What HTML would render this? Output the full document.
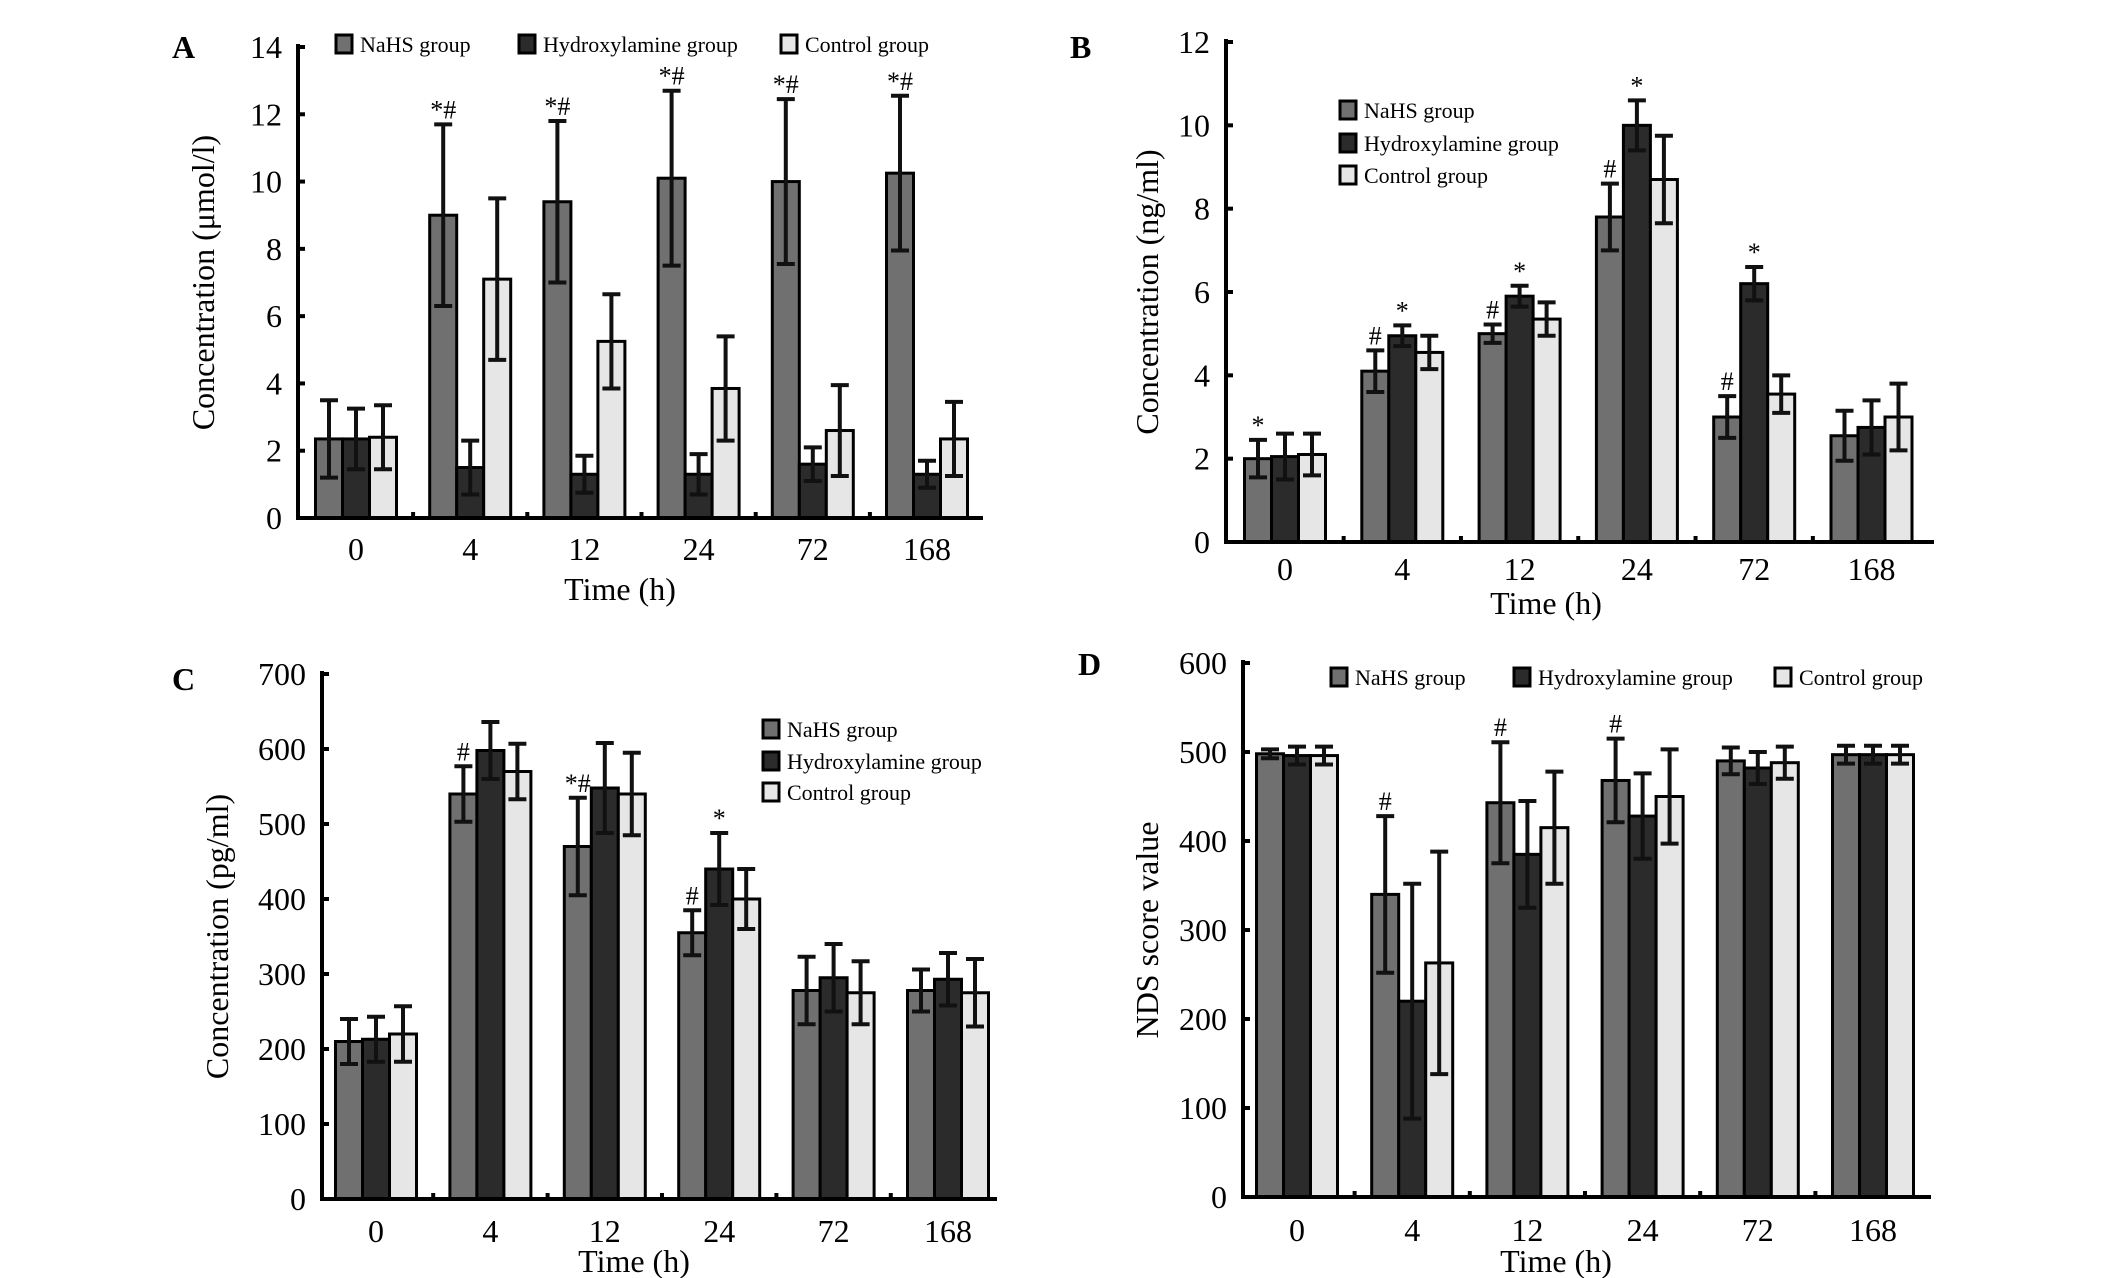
<!DOCTYPE html>
<html><head><meta charset="utf-8"><style>
html,body{margin:0;padding:0;background:#fff;}
svg{display:block;}
text{font-family:"Liberation Serif",serif;fill:#000;}
</style></head><body>
<svg id="fig" width="2126" height="1278" viewBox="0 0 2126 1278" xmlns="http://www.w3.org/2000/svg"></svg>
<script>
const categories = ["0","4","12","24","72","168"];
const seriesNames = ["NaHS group","Hydroxylamine group","Control group"];
// Panel A
const aNaHS = [2.35,9.0,9.4,10.1,10.0,10.25];
const aNaHSErr = [1.15,2.7,2.4,2.6,2.45,2.3];
const aHyd = [2.35,1.5,1.3,1.3,1.6,1.3];
const aHydErr = [0.9,0.8,0.55,0.6,0.5,0.4];
const aCtrl = [2.4,7.1,5.25,3.85,2.6,2.35];
const aCtrlErr = [0.95,2.4,1.4,1.55,1.35,1.1];
const aTicks = [0,2,4,6,8,10,12,14];
// Panel B
const bNaHS = [2.0,4.1,5.0,7.8,3.0,2.55];
const bNaHSErr = [0.45,0.5,0.22,0.8,0.5,0.6];
const bHyd = [2.05,4.95,5.9,10.0,6.2,2.75];
const bHydErr = [0.55,0.25,0.25,0.6,0.4,0.65];
const bCtrl = [2.1,4.55,5.35,8.7,3.55,3.0];
const bCtrlErr = [0.5,0.4,0.4,1.05,0.45,0.8];
const bTicks = [0,2,4,6,8,10,12];
// Panel C
const cNaHS = [210,540,470,355,278,278];
const cNaHSErr = [30,37,65,30,45,28];
const cHyd = [213,598,548,440,295,293];
const cHydErr = [30,38,60,48,45,35];
const cCtrl = [220,570,540,400,275,275];
const cCtrlErr = [37,37,55,40,42,45];
const cTicks = [0,100,200,300,400,500,600,700];
// Panel D
const dNaHS = [498,340,443,468,490,497];
const dNaHSErr = [5,88,68,47,15,10];
const dHyd = [496,220,385,428,482,497];
const dHydErr = [10,132,60,48,18,10];
const dCtrl = [496,263,415,450,488,497];
const dCtrlErr = [10,125,63,53,18,10];
const dTicks = [0,100,200,300,400,500,600];

const svg = document.getElementById('fig');
const NS = 'http://www.w3.org/2000/svg';
const fills = ['#707070','#2b2b2b','#e6e6e6'];
function mk(tag, attrs, parent){ const e=document.createElementNS(NS,tag); for(const k in attrs) e.setAttribute(k,attrs[k]); (parent||svg).appendChild(e); return e; }
function txt(s, attrs, parent){ const e=mk('text',attrs,parent); e.textContent=s; return e; }

function panel(cfg){
  const g = mk('g',{});
  
  
  const y = v => cfg.y0 - v / cfg.max * (cfg.y0 - cfg.yTop);
  const groups = categories.map((c,i)=>cfg.x0c + i*cfg.step);
  const bw = 27;
  const series = [[cfg.s[0],cfg.e[0]],[cfg.s[1],cfg.e[1]],[cfg.s[2],cfg.e[2]]];
  categories.forEach((c,i)=>{
    series.forEach((s,k)=>{
      const bx = groups[i] + (k-1.5)*bw;
      const top = y(s[0][i]);
      const r = mk('rect',{x:bx,y:top,width:bw,height:cfg.y0-top,fill:fills[k],stroke:'#000','stroke-width':3},g);
      
      
      const cx = bx + bw/2, hi = y(s[0][i]+s[1][i]), lo = y(Math.max(0,s[0][i]-s[1][i]));
      const eb = mk('path',{d:`M${cx} ${hi}V${lo}M${cx-9} ${hi}H${cx+9}M${cx-9} ${lo}H${cx+9}`,stroke:'#111','stroke-width':4,fill:'none'},g);
      
      
      const ann = (cfg.ann[i]||[])[k];
      if(ann){ const t=txt(ann,{x:cx,y:hi-6,'text-anchor':'middle','font-size':26},g);
        
         }
    });
    const xl = txt(c,{x:groups[i],y:cfg.xly,'text-anchor':'middle','font-size':32},g);
    
    
    if(i>0){ mk('line',{x1:(groups[i]+groups[i-1])/2,x2:(groups[i]+groups[i-1])/2,y1:cfg.y0,y2:cfg.y0-6,stroke:'#000','stroke-width':4},g); }
  });
  const ax = mk('path',{d:`M${cfg.xAxis} ${cfg.yTop-3}V${cfg.y0}H${cfg.xEnd}`,stroke:'#000','stroke-width':4,fill:'none'},g);
  
  
  cfg.ticks.forEach(v=>{
    mk('line',{x1:cfg.xAxis,x2:cfg.xAxis+7,y1:y(v),y2:y(v),stroke:'#000','stroke-width':4},g);
    const t = txt(String(v),{x:cfg.xAxis-16,y:y(v)+11,'text-anchor':'end','font-size':32},g);
    
    
  });
  const yt = txt(cfg.ytitle,{transform:`translate(${cfg.ytx},${(cfg.y0+cfg.yTop)/2}) rotate(-90)`,'text-anchor':'middle','font-size':32},g);
  
  
  const xt = txt('Time (h)',{x:cfg.xtx,y:cfg.xty,'text-anchor':'middle','font-size':32},g);
  
  
  const lt = txt(cfg.id,{x:cfg.lx,y:cfg.ly,'font-size':32,'font-weight':'bold'},g);
  
  
  cfg.legend.forEach((p,k)=>{
    const lg = mk('g',{},g);
    
    
    mk('rect',{x:p[0],y:p[1]-17,width:16,height:18,fill:fills[k],stroke:'#000','stroke-width':3},lg);
    txt(seriesNames[k],{x:p[0]+24,y:p[1],'font-size':22},lg);
  });
}

panel({id:'A',x0c:356,step:114.2,xAxis:298,xEnd:983,y0:518,yTop:47,max:14,ticks:aTicks,
  s:[aNaHS,aHyd,aCtrl],e:[aNaHSErr,aHydErr,aCtrlErr],
  ann:[null,['*#'],['*#'],['*#'],['*#'],['*#']],
  ytitle:'Concentration (μmol/l)',ytx:214,xly:560,xtx:620,xty:600,lx:172,ly:58,
  legend:[[336,52],[519,52],[781,52]]});
panel({id:'B',x0c:1285,step:117.3,xAxis:1226,xEnd:1934,y0:542,yTop:42,max:12,ticks:bTicks,
  s:[bNaHS,bHyd,bCtrl],e:[bNaHSErr,bHydErr,bCtrlErr],
  ann:[['*'],['#','*'],['#','*'],['#','*'],['#','*'],null],
  ytitle:'Concentration (ng/ml)',ytx:1158,xly:580,xtx:1546,xty:614,lx:1070,ly:58,
  legend:[[1340,118],[1340,151],[1340,183]]});
panel({id:'C',x0c:376,step:114.4,xAxis:322,xEnd:997,y0:1199,yTop:674,max:700,ticks:cTicks,
  s:[cNaHS,cHyd,cCtrl],e:[cNaHSErr,cHydErr,cCtrlErr],
  ann:[null,['#'],['*#'],['#','*'],null,null],
  ytitle:'Concentration (pg/ml)',ytx:228,xly:1242,xtx:634,xty:1272,lx:172,ly:690,
  legend:[[763,737],[763,769],[763,800]]});
panel({id:'D',x0c:1297,step:115.2,xAxis:1243,xEnd:1931,y0:1197,yTop:663,max:600,ticks:dTicks,
  s:[dNaHS,dHyd,dCtrl],e:[dNaHSErr,dHydErr,dCtrlErr],
  ann:[null,['#'],['#'],['#'],null,null],
  ytitle:'NDS score value',ytx:1158,xly:1241,xtx:1556,xty:1272,lx:1078,ly:675,
  legend:[[1331,685],[1514,685],[1775,685]]});
</script>
</body></html>
